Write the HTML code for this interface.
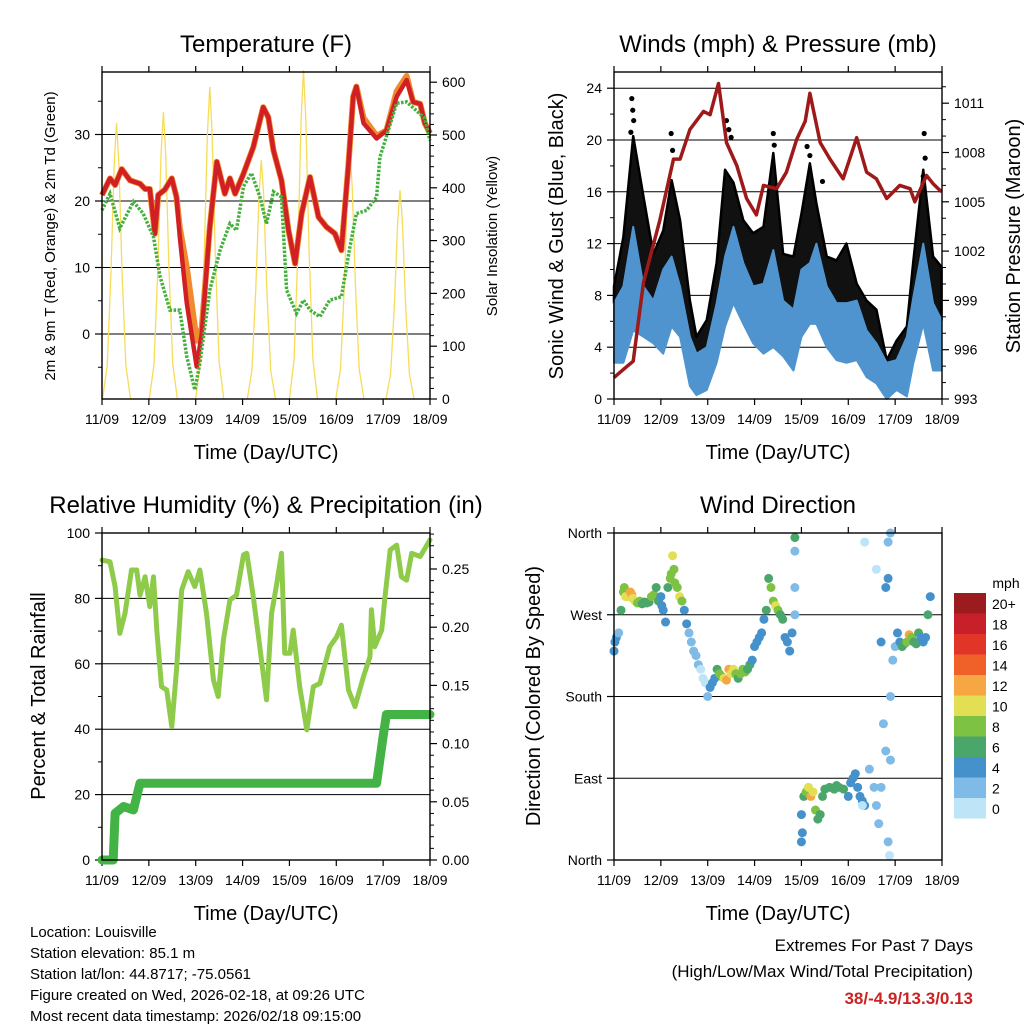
<!DOCTYPE html>
<html><head><meta charset="utf-8"><style>
body{margin:0;background:#fff}
svg{display:block;font-family:"Liberation Sans",sans-serif}
</style></head><body>
<svg id="c" width="1024" height="1024" viewBox="0 0 1024 1024"></svg>
<script>
// ---- data ----
const dayLabels=["11/09","12/09","13/09","14/09","15/09","16/09","17/09","18/09"];
const tempT=[0,0.17,0.28,0.42,0.6,0.81,0.92,1.02,1.13,1.2,1.34,1.49,1.59,1.66,1.81,2.02,2.13,2.3,2.45,2.62,2.73,2.84,3.02,3.23,3.44,3.55,3.66,3.83,3.98,4.12,4.26,4.44,4.62,4.79,4.97,5.11,5.26,5.36,5.43,5.58,5.86,6.07,6.29,6.5,6.64,6.79,6.89,7];
const tempRed=[20.9,23.4,22.4,24.8,23.1,22.6,21.8,21.8,15.1,20.9,21.7,23.4,20.6,14.6,4.6,-4.9,0.1,16.1,25.9,21.1,23.4,21.1,24.1,28.1,34.1,32.6,27.6,23.1,15.6,10.6,18.1,23.6,17.6,16.1,15.1,12.6,25.6,35.7,37.2,31.7,29.4,30.6,35.7,38.2,34.9,34.6,31.7,30.2];
const tempOrange=[20.9,23.4,22.4,24.8,23.1,22.6,21.8,21.8,15.1,20.9,21.7,23.4,20.6,16,10,-1,1,16.1,25.9,21.1,23.4,21.1,24.1,28.1,34.1,32.6,27.6,23.1,15.6,10.6,18.1,23.6,17.6,16.1,15.1,12.6,25.6,35.7,37.2,32.5,29.8,30.6,36.5,38.8,34.9,34.6,31.7,30.2];
const dewT=[0,0.17,0.38,0.67,0.88,1.1,1.24,1.45,1.66,1.81,1.98,2.09,2.3,2.52,2.73,2.87,3.02,3.19,3.37,3.51,3.66,3.83,3.94,4.15,4.3,4.44,4.65,4.86,5.11,5.29,5.43,5.65,5.86,5.93,6.07,6.29,6.5,6.71,6.89,7];
const dewVals=[18.6,21.1,15.9,19.9,18.1,14.6,8.6,3.6,3.6,-3.4,-8.4,-4.4,6.6,12.6,16.6,15.6,22.2,24.2,20.6,16.6,21.4,20.6,6.6,3.1,5.1,3.6,2.6,5.1,5.6,13.1,18.1,18.6,20.6,26.6,29.7,34.7,34.9,33.6,32.4,29.1];
const solarCenter=[0.31,1.31,2.3,3.4,4.3,5.29,6.36];
const solarPeak=[523,544,591,453,623,472,396];
const windT=[0,0.2,0.41,0.63,0.84,1.05,1.23,1.41,1.62,1.76,1.98,2.19,2.37,2.55,2.76,2.97,3.19,3.4,3.61,3.83,4.0,4.18,4.32,4.54,4.75,4.96,5.18,5.39,5.6,5.82,6.03,6.25,6.39,6.6,6.81,6.99];
const sonicHigh=[7.4,8.7,13.3,8.7,7.6,10,11,8.7,4.8,3.5,4,7.4,11,13.3,10.5,8.7,8.9,11.5,7.6,6.9,10,10.5,12,8.7,7.4,7.4,7.6,5.3,4.3,2.8,3,4.8,7.9,12,7.4,6.1];
const sonicLow=[2.8,2.8,5.3,4.8,4.3,3.5,5.6,4.8,1,0.3,0.7,2.8,5.6,7.4,5.8,4.3,3.5,4,3.3,2.2,4.8,5.8,5.8,4,3,2.8,3,1.7,1.2,0,0.7,0.2,2.8,5.8,2.2,2.2];
const gustHigh=[8.7,12.5,20.3,15.6,11.2,13,16.9,13.8,7.6,4.8,6.1,10.5,17.7,16.7,13.8,12.8,13.3,19,11.2,11,14.3,18.2,15.1,11,10.7,12,8.9,7.6,6.9,3,4.5,5.6,10.7,17.7,11,10.2];
const gustDotT=[0.38,0.4,0.42,0.36,1.22,1.25,2.4,2.45,2.5,3.4,3.42,4.12,4.18,4.45,6.62,6.64,6.6];
const gustDotV=[23.2,22.3,21.5,20.6,20.5,19.2,21.5,20.8,20.2,20.5,19.6,19.5,18.8,16.8,20.5,18.6,17.2];
const presT=[0,0.2,0.41,0.63,0.98,1.27,1.41,1.62,1.91,2.05,2.23,2.4,2.62,2.83,3.04,3.19,3.47,3.68,3.9,4.08,4.18,4.4,4.61,4.89,5.18,5.39,5.6,5.82,6.1,6.32,6.42,6.67,6.81,6.99];
const presVals=[994.3,994.8,995.3,1000.1,1003.9,1007.6,1007.6,1009.4,1010.5,1010.3,1012.2,1008.6,1007.2,1005.2,1004.2,1006.0,1005.8,1006.8,1008.8,1009.9,1011.6,1008.6,1007.6,1006.4,1008.9,1006.8,1006.4,1005.2,1006.0,1005.8,1005.0,1006.6,1006.1,1005.6];
const rhT=[0,0.17,0.28,0.38,0.49,0.63,0.74,0.81,0.92,1.02,1.1,1.17,1.27,1.38,1.49,1.59,1.7,1.84,1.98,2.09,2.23,2.38,2.48,2.59,2.73,2.87,3.02,3.09,3.23,3.34,3.51,3.62,3.73,3.83,3.9,4.01,4.08,4.22,4.37,4.51,4.65,4.86,5.01,5.11,5.26,5.4,5.58,5.72,5.75,5.82,5.97,6.04,6.15,6.29,6.39,6.5,6.61,6.79,7];
const rhVals=[91.7,91.2,83.6,69.3,75.4,88.7,88.7,81,86.6,77.5,86.6,70.3,53,52,40.8,58.1,82.6,88.2,83.6,88.7,75.4,55,50,67.3,79.5,81,93.3,93.8,80.5,68.3,49,75.4,84.6,93.8,63.2,63.2,70.3,53,39.8,53,54,65.2,68.3,71.8,52,46.9,56.1,62.2,76.5,65.2,70.3,80.5,94.8,96.3,86.6,85.6,93.8,92.8,97.9];
const rainT=[0,0.24,0.28,0.46,0.67,0.81,5.86,6.0,6.07,7];
const rainVals=[0,0,0.04,0.046,0.043,0.066,0.066,0.106,0.125,0.125];
const dirT=[0,0.02,0.05,0.1,0.15,0.2,0.22,0.25,0.3,0.35,0.38,0.4,0.45,0.5,0.55,0.6,0.65,0.7,0.75,0.8,0.85,0.9,0.95,1.0,1.02,1.05,1.1,1.15,1.2,1.22,1.25,1.28,1.3,1.35,1.4,1.45,1.5,1.55,1.6,1.65,1.7,1.75,1.8,1.85,1.9,1.95,2.0,2.05,2.1,2.15,2.2,2.25,2.3,2.35,2.4,2.45,2.5,2.55,2.6,2.65,2.7,2.75,2.8,2.85,2.9,2.95,3.0,3.05,3.1,3.15,3.2,3.25,3.3,3.35,3.4,3.45,3.5,3.55,3.6,3.65,3.7,3.75,3.8,3.86,3.86,3.86,3.86,4.0,4.0,4.02,4.05,4.1,4.15,4.2,4.25,4.3,4.35,4.4,4.45,4.5,4.6,4.7,4.75,4.8,4.9,5.0,5.05,5.1,5.15,5.2,5.25,5.3,5.35,5.45,5.55,5.6,5.65,5.7,5.75,5.8,5.3,5.35,5.6,5.7,5.85,5.9,5.95,6.0,6.05,6.1,6.15,6.2,6.25,6.3,6.35,6.4,6.45,6.5,6.55,6.6,6.65,6.7,6.75,5.8,5.85,5.9,5.9,5.85,5.88];
const dirDeg=[230,240,245,250,275,295,300,290,290,295,292,288,285,283,285,282,284,283,284,290,292,300,285,290,280,275,262,300,310,315,335,320,305,300,290,285,275,260,250,240,230,225,215,210,200,195,180,190,195,200,210,205,202,200,198,210,205,210,205,200,205,210,207,210,215,220,235,240,245,250,265,275,310,300,285,280,275,270,265,245,240,230,250,270,300,340,355,50,20,30,70,75,80,70,75,55,45,50,70,78,80,78,82,80,78,70,85,90,95,80,70,65,60,100,80,60,40,80,150,120,60,350,320,240,310,180,220,235,250,240,235,238,240,248,245,240,238,250,245,240,245,270,290,300,350,360,110,20,5,130];
const dirSpd=[4,4,4,3,6,8,9,10,11,12,12,11,10,8,8,7,7,7,6,8,8,6,6,5,4,4,4,7,8,9,10,9,9,8,10,8,4,4,3,3,2,2,2,1,1,1,3,4,4,5,7,8,9,10,12,13,11,10,8,7,9,8,8,7,6,5,4,4,4,4,5,6,7,8,9,10,8,6,7,4,4,5,5,2,2,2,6,5,4,4,7,8,10,12,10,9,7,7,6,7,6,6,6,6,6,5,4,4,4,4,4,4,4,3,2,2,2,2,3,2,1,1,1,4,4,2,2,2,4,5,6,7,8,12,8,6,7,6,4,4,5,6,4,4,2,3,3,2,1,1];
const cbLabels=["0","2","4","6","8","10","12","14","16","18","20+"];
const cbColors=["#bde4f7","#7fbbe6","#4591cb","#4aa66a","#7dc242","#e3df54","#f7a644","#ef6128","#e03527","#c8202a","#9b1b1e"];

// ---- helpers ----
const S=document.getElementById('c');const NS='http://www.w3.org/2000/svg';
function mk(tag,attrs,parent){const e=document.createElementNS(NS,tag);for(const k in attrs)e.setAttribute(k,attrs[k]);(parent||S).appendChild(e);return e;}
function txt(x,y,s,size,anchor,parent,extra){const e=mk('text',Object.assign({x:x,y:y,'font-size':size,'text-anchor':anchor||'middle',fill:'#000'},extra||{}),parent);e.textContent=s;return e;}
function lin(d0,d1,r0,r1){return v=>r0+(v-d0)/(d1-d0)*(r1-r0);}
function panel(name,x0,x1,y0,y1,title,xlab){
  const g=mk('g',{});
  const t=txt((x0+x1)/2,y0-20,title,24,'middle',g);
  const xs=lin(0,7,x0,x1);
  const xl=txt((x0+x1)/2,y1+60,xlab,20,'middle',g);
  for(let i=0;i<8;i++){const x=xs(i);mk('line',{x1:x,x2:x,y1:y1,y2:y1+6,stroke:'#000','stroke-width':1.2},g);mk('line',{x1:x,x2:x,y1:y0,y2:y0-6,stroke:'#000','stroke-width':1.2},g);
    const l=txt(x,y1+25,dayLabels[i],14,'middle',g);}
  return {g,xs};
}
function frame(g,x0,x1,y0,y1){mk('rect',{x:x0,y:y0,width:x1-x0,height:y1-y0,fill:'none',stroke:'#000','stroke-width':1.4},g);}
function hgrid(g,x0,x1,y){mk('line',{x1:x0,x2:x1,y1:y,y2:y,stroke:'#000','stroke-width':1},g);}
function path(xsArr,ysArr,xs,ys){return xsArr.map((t,i)=>(i?'L':'M')+xs(t).toFixed(1)+','+ys(ysArr[i]).toFixed(1)).join('');}
function ytick(g,x,y,label,side){const d=side==='l'?-7:7;mk('line',{x1:x,x2:x+d,y1:y,y2:y,stroke:'#000','stroke-width':1.2},g);
  const l=txt(x+(side==='l'?-12:12),y+5,label,14,side==='l'?'end':'start',g);}
function minor(g,x,y,side){const d=side==='l'?-4:4;mk('line',{x1:x,x2:x+d,y1:y,y2:y,stroke:'#000','stroke-width':1},g);}
function vlabel(g,x,y,s,size,name){const e=txt(x,y,s,size,'middle',g,{transform:`rotate(-90 ${x} ${y})`});}

// ---- Panel 1: Temperature ----
(function(){
  const x0=102,x1=430,y0=72,y1=399;
  const P=panel('temperature-panel',x0,x1,y0,y1,'Temperature (F)','Time (Day/UTC)');const g=P.g,xs=P.xs;
  const yl=lin(0,10,334,267.5), yr=lin(0,100,399,346.2);
  [0,10,20,30].forEach(v=>{hgrid(g,x0,x1,yl(v));ytick(g,x0,yl(v),String(v),'l');});
  for(let v=-5;v<=35;v+=5)if(v%10)minor(g,x0,yl(v),'l');
  [0,100,200,300,400,500,600].forEach(v=>ytick(g,x1,yr(v),String(v),'r'));
  for(let v=20;v<=600;v+=20)if(v%100)minor(g,x1,yr(v),'r');
  const offs=[-0.3,-0.2,-0.12,-0.05,0,0.05,0.12,0.2,0.3], fr=[0,0.12,0.45,0.85,1,0.85,0.45,0.12,0];
  for(let i=0;i<solarCenter.length;i++){const c=solarCenter[i],p=solarPeak[i];
    const ts=offs.map(o=>c+o);const vs=fr.map(f=>p*f);
    const e=mk('path',{d:path(ts,vs,xs,yr),fill:'none',stroke:'#f7dc5a','stroke-width':1.3},g);
    }
  let e=mk('path',{d:path(tempT,tempOrange,xs,yl),fill:'none',stroke:'#f08a2c','stroke-width':6,'stroke-linejoin':'round'},g);
  
  e=mk('path',{d:path(tempT,tempRed,xs,yl),fill:'none',stroke:'#d02025','stroke-width':4.5,'stroke-linejoin':'round'},g);
  
  e=mk('path',{d:path(dewT,dewVals,xs,yl),fill:'none',stroke:'#45b03e','stroke-width':3.5,'stroke-dasharray':'2.5 1.5'},g);
  
  frame(g,x0,x1,y0,y1);
  vlabel(g,55,236,'2m & 9m T (Red, Orange) & 2m Td (Green)',15,'temp-y-axis-title');
  vlabel(g,497,236,'Solar Insolation (Yellow)',15,'solar-y-axis-title');
})();

// ---- Panel 2: Winds ----
(function(){
  const x0=614,x1=942,y0=72,y1=399;
  const P=panel('winds-panel',x0,x1,y0,y1,'Winds (mph) & Pressure (mb)','Time (Day/UTC)');const g=P.g,xs=P.xs;
  const yl=lin(0,4,399,347.2), yr=lin(993,996,399,349.7);
  [0,4,8,12,16,20,24].forEach(v=>{hgrid(g,x0,x1,yl(v));ytick(g,x0,yl(v),String(v),'l');});
  for(let v=2;v<=24;v+=4)minor(g,x0,yl(v),'l');
  [993,996,999,1002,1005,1008,1011].forEach(v=>ytick(g,x1,yr(v),String(v),'r'));
  for(let v=994;v<=1012;v++)if((v-993)%3)minor(g,x1,yr(v),'r');
  let up=windT.map((t,i)=>xs(t)+','+yl(gustHigh[i])).join(' ');
  let dn=windT.slice().reverse().map((t,j)=>{const i=windT.length-1-j;return xs(t)+','+yl(sonicHigh[i]);}).join(' ');
  let e=mk('polygon',{points:up+' '+dn,fill:'#111',stroke:'#000','stroke-width':2.5,'stroke-linejoin':'round'},g);
  
  for(let i=0;i<gustDotT.length;i++){const d=mk('circle',{cx:xs(gustDotT[i]),cy:yl(gustDotV[i]),r:2.6,fill:'#000'},g);
    }
  up=windT.map((t,i)=>xs(t)+','+yl(sonicHigh[i])).join(' ');
  dn=windT.slice().reverse().map((t,j)=>{const i=windT.length-1-j;return xs(t)+','+yl(sonicLow[i]);}).join(' ');
  e=mk('polygon',{points:up+' '+dn,fill:'#4f94cf',stroke:'#4f94cf','stroke-width':2,'stroke-linejoin':'round'},g);
  
  e=mk('path',{d:path(presT,presVals,xs,yr),fill:'none',stroke:'#9e1a1a','stroke-width':3.5,'stroke-linejoin':'round'},g);
  
  frame(g,x0,x1,y0,y1);
  vlabel(g,563,236,'Sonic Wind & Gust (Blue, Black)',20,'wind-y-axis-title');
  vlabel(g,1020,236,'Station Pressure (Maroon)',20,'pressure-y-axis-title');
})();

// ---- Panel 3: RH ----
(function(){
  const x0=102,x1=430,y0=533,y1=860;
  const P=panel('humidity-panel',x0,x1,y0,y1,'Relative Humidity (%) & Precipitation (in)','Time (Day/UTC)');const g=P.g,xs=P.xs;
  const yl=lin(0,100,860,533), yr=lin(0,0.05,860,801.8);
  [0,20,40,60,80,100].forEach(v=>{hgrid(g,x0,x1,yl(v));ytick(g,x0,yl(v),String(v),'l');});
  for(let v=10;v<100;v+=20)minor(g,x0,yl(v),'l');
  [0,0.05,0.1,0.15,0.2,0.25].forEach(v=>ytick(g,x1,yr(v),v.toFixed(2),'r'));
  for(let k=1;k<=28;k++)if(k%5)minor(g,x1,yr(k/100),'r');
  let e=mk('path',{d:path(rhT,rhVals,xs,yl),fill:'none',stroke:'#8fcb4a','stroke-width':5,'stroke-linejoin':'round','stroke-linecap':'round'},g);
  
  e=mk('path',{d:path(rainT,rainVals,xs,yr),fill:'none',stroke:'#44b346','stroke-width':9,'stroke-linejoin':'round','stroke-linecap':'round'},g);
  
  frame(g,x0,x1,y0,y1);
  vlabel(g,45,696,'Percent & Total Rainfall',20,'humidity-y-axis-title');
})();

// ---- Panel 4: Wind direction ----
(function(){
  const x0=614,x1=942,y0=533,y1=860;
  const P=panel('wind-direction-panel',x0,x1,y0,y1,'Wind Direction','Time (Day/UTC)');const g=P.g,xs=P.xs;
  const yl=lin(0,360,860,533);
  const names=['North','East','South','West','North'];
  [0,90,180,270,360].forEach((v,i)=>{hgrid(g,x0,x1,yl(v));ytick(g,x0,yl(v),names[i],'l');});
  for(let i=0;i<dirT.length;i++){
    const ci=Math.min(10,Math.floor(dirSpd[i]/2));
    const e=mk('circle',{cx:xs(dirT[i]),cy:yl(dirDeg[i]),r:4.5,fill:cbColors[ci]},g);
    
  }
  frame(g,x0,x1,y0,y1);
  vlabel(g,540,696,'Direction (Colored By Speed)',20,'direction-y-axis-title');
  const cb=mk('g',{});
  txt(1006,588,'mph',14,'middle',cb);
  for(let i=0;i<11;i++){const y=798-i*20.5;
    const r=mk('rect',{x:954,y:y,width:32,height:20.5,fill:cbColors[i]},cb);
    
    const l=txt(992,y+16,cbLabels[i],14,'start',cb);}
})();

// ---- footer ----
const info=["Location: Louisville","Station elevation: 85.1 m","Station lat/lon: 44.8717; -75.0561","Figure created on Wed, 2026-02-18, at 09:26 UTC","Most recent data timestamp: 2026/02/18 09:15:00"];
info.forEach((s,i)=>{const e=txt(30,937+i*21,s,15,'start');});
let f=txt(973,951,'Extremes For Past 7 Days',17,'end');
f=txt(973,977,'(High/Low/Max Wind/Total Precipitation)',17,'end');
f=txt(973,1004,'38/-4.9/13.3/0.13',17,'end',null,{fill:'#cc2222','font-weight':'bold'});
</script>
</body></html>
